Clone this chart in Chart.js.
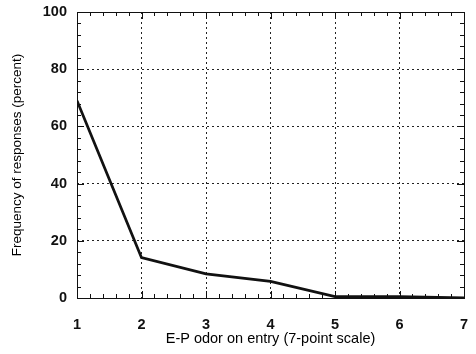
<!DOCTYPE html>
<html>
<head>
<meta charset="utf-8">
<script src="https://cdn.jsdelivr.net/npm/chart.js@4"></script>
<style>
  html, body { margin: 0; padding: 0; background: #fff; }
  #wrap { width: 476px; height: 354px; }
</style>
</head>
<body>
<div id="wrap"><canvas id="chart" width="476" height="354"></canvas></div>
<script>
// odor rating on entry (7-point scale) and share of responses
const odorScale = [1, 2, 3, 4, 5, 6, 7];
const responses = [69, 14.1, 8.4, 5.8, 0.5, 0.5, 0];
const xTicks = [1, 2, 3, 4, 5, 6, 7];
const yTicks = [0, 20, 40, 60, 80, 100];

const points = odorScale.map((v, i) => ({ x: v, y: responses[i] }));

// frame round the plot and small inward ticks on all four sides
const frameTicks = {
    id: "frameTicks",
    afterDraw(chart) {
        const ctx = chart.ctx;
        const a = chart.chartArea;
        const xs = chart.scales.x, ys = chart.scales.y;
        ctx.save();
        ctx.strokeStyle = "#111";
        ctx.lineWidth = 1;
        ctx.strokeRect(a.left + 0.5, a.top + 0.5, a.right - a.left, a.bottom - a.top);
        ctx.beginPath();
        for (let v = 1; v <= 7.001; v += 0.2) {
            const px = Math.round(xs.getPixelForValue(v)) + 0.5;
            const len = Math.abs(v - Math.round(v)) < 0.01 ? 7 : 4;
            ctx.moveTo(px, a.bottom); ctx.lineTo(px, a.bottom - len);
            ctx.moveTo(px, a.top); ctx.lineTo(px, a.top + len);
        }
        for (let v = 0; v <= 100; v += 4) {
            const py = Math.round(ys.getPixelForValue(v)) + 0.5;
            const len = v % 20 === 0 ? 7 : 4;
            ctx.moveTo(a.left, py); ctx.lineTo(a.left + len, py);
            ctx.moveTo(a.right, py); ctx.lineTo(a.right - len, py);
        }
        ctx.stroke();
        ctx.restore();
    }
};

const ctx = document.getElementById("chart").getContext("2d");
const chart = new Chart(ctx, {
    type: "line",
    data: {
        datasets: [{
            data: points,
            borderColor: "#111",
            borderWidth: 2.8,
            pointRadius: 0,
            tension: 0,
            fill: false
        }]
    },
    options: {
        responsive: false,
        animation: false,
        layout: { padding: { left: 0, top: 12, right: 12, bottom: 0 } },
        plugins: { legend: { display: false }, tooltip: { enabled: false } },
        scales: {
            x: {
                type: "linear",
                min: 1, max: 7,
                afterBuildTicks: s => { s.ticks = xTicks.map(v => ({ value: v })); },
                afterFit: s => { s.height = 56; s.paddingLeft = 0; s.paddingRight = 0; },
                ticks: { color: "#111", padding: 18, font: { family: "Liberation Sans", size: 14.5, weight: "bold" } },
                grid: { color: "#222", lineWidth: 1, drawTicks: false },
                border: { display: false, dash: [2, 3] },
                title: {
                    display: true,
                    text: "E-P odor on entry (7-point scale)",
                    color: "#000",
                    font: { family: "Liberation Sans", size: 14.5 },
                    padding: { top: 0, bottom: 6 }
                }
            },
            y: {
                min: 0, max: 100,
                afterBuildTicks: s => { s.ticks = yTicks.map(v => ({ value: v })); },
                afterFit: s => { s.width = 77; s.paddingTop = 0; s.paddingBottom = 0; },
                ticks: { color: "#111", padding: 10, font: { family: "Liberation Sans", size: 14.5, weight: "bold" } },
                grid: { color: "#222", lineWidth: 1, drawTicks: false },
                border: { display: false, dash: [2, 3] },
                title: {
                    display: true,
                    text: "Frequency of responses (percent)",
                    color: "#000",
                    font: { family: "Liberation Sans", size: 13.5 },
                    padding: { top: 9, bottom: 0 }
                }
            }
        }
    },
    plugins: [frameTicks]
});
</script>
</body>
</html>
